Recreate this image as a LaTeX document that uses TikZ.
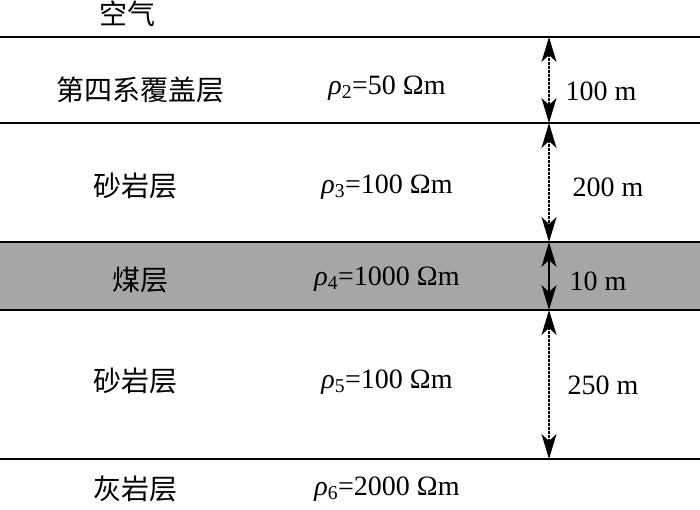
\documentclass[tikz,border=0pt]{standalone}
\usepackage{fontspec}
\setmainfont{Liberation Serif}
\newfontfamily\cjk{Noto Sans CJK SC}
\usetikzlibrary{arrows.meta}
\definecolor{coalgray}{RGB}{166,166,166}
\newcommand{\rhosub}[1]{\textit{ρ}\textsubscript{#1}}
\begin{document}
\begin{tikzpicture}[x=1pt,y=-1pt,
  layerline/.style={line width=1.8pt},
  cn/.style={font=\cjk\fontsize{28}{30}\selectfont, inner sep=0pt},
  rl/.style={font=\fontsize{28}{30}\selectfont, inner sep=0pt},
  dimarrow/.style={line width=1.4pt, {Stealth[length=25pt,width=15pt,inset=7pt]}-{Stealth[length=25pt,width=15pt,inset=7pt]}, dash pattern=on 2.5pt off 1.5pt},
  dimsolid/.style={line width=1.4pt, {Stealth[length=25pt,width=15pt,inset=7pt]}-{Stealth[length=25pt,width=15pt,inset=7pt]}},
  dl/.style={font=\fontsize{28}{30}\selectfont, inner sep=0pt}]
\useasboundingbox (0,0) rectangle (700,509);
\fill[coalgray] (0,242) rectangle (700,310);
\draw[layerline] (0,37) -- (700,37);
\draw[layerline] (0,123) -- (700,123);
\draw[layerline] (0,242) -- (700,242);
\draw[layerline] (0,310) -- (700,310);
\draw[layerline] (0,459) -- (700,459);
\coordinate (a0) at (549,37);
\coordinate (a1) at (549,123);
\coordinate (a2) at (549,242);
\coordinate (a3) at (549,310);
\coordinate (a4) at (549,459);
\draw[dimarrow] (a0) -- (a1);
\draw[dimarrow] (a1) -- (a2);
\draw[dimsolid] (a2) -- (a3);
\draw[dimarrow] (a3) -- (a4);
\node[cn] (air) at (127,14) {空气};
\node[cn] (l2) at (140,90) {第四系覆盖层};
\node[cn] (l3) at (135,186) {砂岩层};
\node[cn] (l4) at (140,280) {煤层};
\node[cn] (l5) at (135,381) {砂岩层};
\node[cn] (l6) at (135,489) {灰岩层};
\node[rl] (r2) at (387,88) {\rhosub{2}=50 Ωm};
\node[rl] (r3) at (387,187) {\rhosub{3}=100 Ωm};
\node[rl] (r4) at (387,279) {\rhosub{4}=1000 Ωm};
\node[rl] (r5) at (387,382) {\rhosub{5}=100 Ωm};
\node[rl] (r6) at (387,489) {\rhosub{6}=2000 Ωm};
\node[dl] (d1) at (601,91) {100 m};
\node[dl] (d2) at (608,187) {200 m};
\node[dl] (d3) at (598,281) {10 m};
\node[dl] (d4) at (603,385) {250 m};
\end{tikzpicture}
\end{document}
